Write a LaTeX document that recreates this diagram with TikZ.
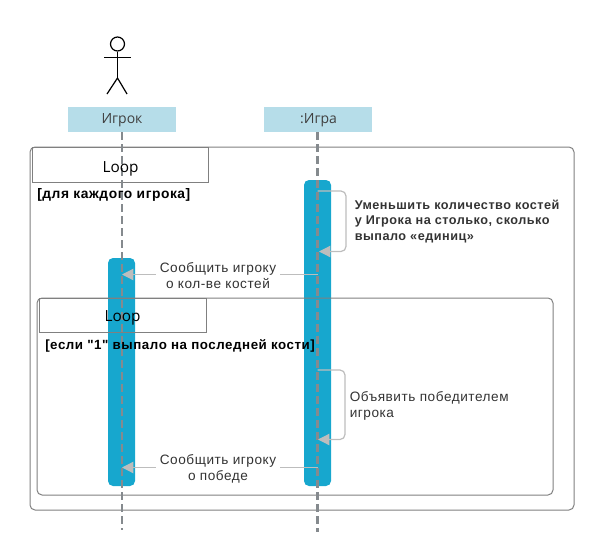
\documentclass[tikz,border=0pt]{standalone}
\usepackage{fontspec}
\setmainfont{Liberation Sans}
\newfontfamily\msgfont[LetterSpace=4]{Liberation Sans}
\newfontfamily\headfont{Open Sans}
\usetikzlibrary{arrows.meta}
\definecolor{boxblue}{HTML}{B6DDE9}
\definecolor{actblue}{HTML}{17A7CE}
\definecolor{framegray}{HTML}{808080}
\definecolor{lifegray}{HTML}{858A8E}
\definecolor{msggray}{HTML}{BDBDBD}
\definecolor{txtdark}{HTML}{333333}
\tikzset{
  px/.style={x=0.75pt,y=-0.75pt},
  headbox/.style={fill=boxblue,minimum width=81pt,minimum height=18.75pt,inner sep=0pt},
  headtext/.style={font=\headfont\fontsize{10.5}{12}\selectfont,text=black!75,inner sep=0pt},
  activation/.style={fill=actblue,draw=none,rounded corners=3.75pt},
  lifeline/.style={draw=lifegray,line width=1.9pt,dash pattern=on 6pt off 3pt},
  framebox/.style={draw=framegray,line width=0.75pt,rounded corners=3.75pt},
  tabbox/.style={draw=framegray,line width=0.75pt,fill=none},
  looplabel/.style={font=\headfont\fontsize{11.5}{13}\selectfont,text=black,inner sep=0pt},
  guard/.style={font=\bfseries\msgfont\fontsize{10}{11.5}\selectfont,text=black,anchor=west,inner sep=0pt},
  msg/.style={draw=msggray,line width=0.9pt,rounded corners=3.75pt,-{Triangle[length=8.5pt,width=8.5pt,fill=msggray]}},
  msglabel/.style={font=\msgfont\fontsize{10.2}{12}\selectfont,text=txtdark,align=center,fill=white,inner xsep=3pt,inner ysep=0pt},
  sidelabel/.style={font=\msgfont\fontsize{10.2}{11.5}\selectfont,text=txtdark,align=left,anchor=west,inner sep=0pt},
  actorline/.style={draw=black,line width=0.9pt},
}
\begin{document}
\begin{tikzpicture}[px]
\useasboundingbox (0,0) rectangle (601,543);
% activations
\node[activation,minimum width=20.25pt,minimum height=229.5pt,inner sep=0pt] (actA) at (317.5,333) {};
\node[activation,minimum width=20.25pt,minimum height=171pt,inner sep=0pt] (actB) at (121.5,372) {};
% frames
\node[framebox,minimum width=408pt,minimum height=272.25pt,inner sep=0pt] (outer) at (302,328.5) {};
\node[tabbox,minimum width=132.5pt,minimum height=26.25pt,inner sep=0pt] (tabA) at (120.5,164.5) {};
\node[framebox,minimum width=387pt,minimum height=147.75pt,inner sep=0pt] (inner) at (295,396.5) {};
\node[tabbox,minimum width=125.6pt,minimum height=25.5pt,inner sep=0pt] (tabB) at (122.75,315) {};
% heads
\node[headbox] (player) at (122,119.5) {};
\node[headbox] (game) at (318,119.5) {};
\node[headtext] (playerT) at (122,120.5) {Игрок};
\node[headtext] (gameT) at (318.5,120.5) {:Игра};
% lifelines
\coordinate (endP) at (122,530);
\coordinate (endG) at (317.5,532);
\draw[lifeline] (player.south) -- (endP);
\draw[lifeline] (game.south -| endG) -- (endG);
% actor
\node[draw=black,line width=0.9pt,circle,minimum size=10.5pt,inner sep=0pt] (head) at (117.5,44) {};
\coordinate (hip) at (117.5,78);
\coordinate (armL) at (104,57.5);
\coordinate (armR) at (131,57.5);
\coordinate (legL) at (107,94);
\coordinate (legR) at (127,94);
\draw[actorline] (head.south) -- (hip);
\draw[actorline] (armL) -- (armR);
\draw[actorline] (legL) -- (hip) -- (legR);
% messages
\coordinate (m1s) at (317.5,191);
\coordinate (m1e) at (319,251.5);
\coordinate (m1c) at (346,191);
\coordinate (m1d) at (346,251.5);
\draw[msg] (m1s) -- (m1c) -- (m1d) -- (m1e);
\coordinate (m3s) at (317.5,370);
\coordinate (m3e) at (318,439.5);
\coordinate (m3c) at (345,370);
\coordinate (m3d) at (345,439.5);
\draw[msg] (m3s) -- (m3c) -- (m3d) -- (m3e);
\coordinate (m2s) at (317.5,274.5);
\coordinate (m2e) at (122,274.5);
\draw[msg] (m2s) -- (m2e);
\coordinate (m4s) at (317.5,467.5);
\coordinate (m4e) at (122,467.5);
\draw[msg] (m4s) -- (m4e);
% labels
\node[msglabel] (l2) at (218,275.5) {Сообщить игроку\\о кол-ве костей};
\node[msglabel] (l4) at (218,469) {Сообщить игроку\\о победе};
\node[sidelabel,font=\bfseries\msgfont\fontsize{9.5}{11.7}\selectfont] (l1) at (354.5,221.5) {Уменьшить количество костей\\у Игрока на столько, сколько\\выпало «единиц»};
\node[sidelabel] (l3) at (349.5,406) {Объявить победителем\\игрока};
\node[looplabel] (loopA) at (120.5,168.5) {Loop};
\node[looplabel] (loopB) at (122.5,318) {Loop};
\node[guard,font=\bfseries\msgfont\fontsize{10.35}{11.5}\selectfont] (gA) at (37,195) {[для каждого игрока]};
\node[guard] (gB) at (45,345.5) {[если "1" выпало на последней кости]};
\end{tikzpicture}
\end{document}
